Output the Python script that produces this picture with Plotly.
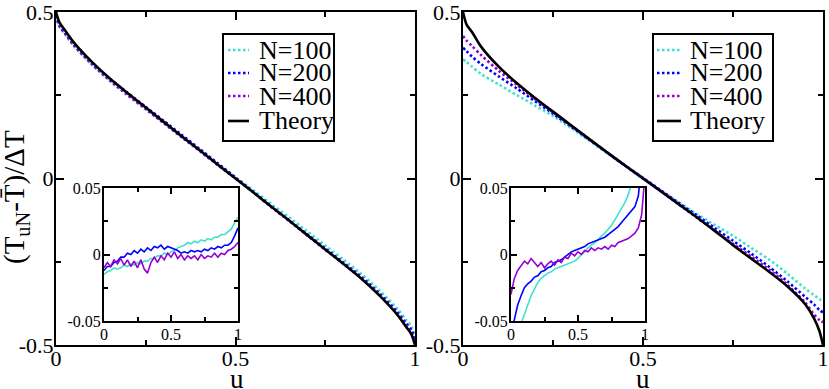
import plotly.graph_objects as go

# ---------------- data ----------------
U = [0, 0.01, 0.025, 0.05, 0.1, 0.15, 0.2, 0.25, 0.3, 0.35, 0.4, 0.45, 0.5,
     0.55, 0.6, 0.65, 0.7, 0.75, 0.8, 0.85, 0.9, 0.95, 0.975, 0.99, 1]

theory_left = [0.5, 0.468, 0.445, 0.408, 0.350, 0.300, 0.256, 0.213, 0.170, 0.127, 0.085, 0.042, 0.0,
               -0.042, -0.085, -0.127, -0.170, -0.213, -0.256, -0.300, -0.350, -0.408, -0.445, -0.468, -0.5]
left_n100 = [0.486, 0.455, 0.433, 0.397, 0.342, 0.294, 0.252, 0.210, 0.168, 0.126, 0.086, 0.045, 0.004,
             -0.036, -0.077, -0.117, -0.159, -0.201, -0.243, -0.286, -0.335, -0.390, -0.424, -0.444, -0.474]
left_n200 = [0.490, 0.458, 0.436, 0.401, 0.346, 0.299, 0.257, 0.215, 0.173, 0.131, 0.089, 0.046, 0.003,
             -0.040, -0.084, -0.126, -0.168, -0.210, -0.252, -0.295, -0.344, -0.400, -0.435, -0.455, -0.482]
left_n400 = [0.490, 0.458, 0.436, 0.400, 0.343, 0.294, 0.250, 0.208, 0.166, 0.124, 0.083, 0.041, 0.000,
             -0.042, -0.086, -0.128, -0.171, -0.214, -0.256, -0.299, -0.348, -0.405, -0.441, -0.463, -0.494]

theory_right = [0.5, 0.462, 0.440, 0.396, 0.335, 0.286, 0.242, 0.201, 0.160, 0.119, 0.079, 0.039, 0.0,
                -0.039, -0.078, -0.117, -0.158, -0.200, -0.240, -0.280, -0.323, -0.377, -0.420, -0.458, -0.5]
right_n100 = [0.358, 0.350, 0.336, 0.314, 0.282, 0.250, 0.219, 0.188, 0.152, 0.114, 0.076, 0.037, -0.001,
              -0.036, -0.072, -0.107, -0.140, -0.172, -0.208, -0.243, -0.285, -0.330, -0.350, -0.362, -0.368]
right_n200 = [0.393, 0.382, 0.366, 0.344, 0.306, 0.270, 0.232, 0.195, 0.156, 0.117, 0.078, 0.039, 0.002,
              -0.036, -0.074, -0.111, -0.149, -0.187, -0.225, -0.265, -0.308, -0.355, -0.378, -0.395, -0.402]
right_n400 = [0.428, 0.414, 0.398, 0.371, 0.323, 0.281, 0.239, 0.199, 0.159, 0.119, 0.079, 0.040, 0.001,
              -0.038, -0.078, -0.118, -0.157, -0.196, -0.234, -0.273, -0.318, -0.372, -0.408, -0.425, -0.432]

# inset: deviations, u step 0.025
UI = [i / 40 for i in range(41)]
inl_n100 = [-0.015, -0.013, -0.012, -0.010, -0.011, -0.010, -0.008, -0.009, -0.007, -0.008, -0.006,
            -0.007, -0.005, -0.005, -0.003, -0.003, -0.001, -0.001, 0.001, 0.000, 0.002, 0.003, 0.005,
            0.006, 0.007, 0.009, 0.008, 0.010, 0.009, 0.011, 0.010, 0.012, 0.011, 0.013, 0.013, 0.015,
            0.015, 0.017, 0.019, 0.024, 0.028]
inl_n200 = [-0.012, -0.009, -0.009, -0.006, -0.005, -0.002, -0.002, 0.001, 0.000, 0.003, 0.001,
            0.004, 0.002, 0.005, 0.003, 0.006, 0.005, 0.007, 0.004, 0.006, 0.005, 0.004, 0.003, 0.001,
            0.002, 0.001, 0.003, 0.002, 0.003, 0.002, 0.004, 0.003, 0.005, 0.004, 0.006, 0.005, 0.007,
            0.007, 0.009, 0.014, 0.020]
inl_n400 = [-0.010, -0.006, -0.009, -0.004, -0.007, -0.003, -0.008, -0.004, -0.009, -0.005, -0.010,
            -0.004, -0.011, -0.014, -0.006, -0.002, -0.006, -0.001, -0.004, 0.001, -0.002, 0.002, -0.003,
            0.000, -0.004, -0.001, -0.003, -0.001, -0.004, 0.000, -0.003, -0.001, -0.002, 0.001, -0.002,
            0.001, 0.000, 0.003, 0.004, 0.006, 0.009]

inr_n100 = [-0.090, -0.075, -0.062, -0.052, -0.045, -0.038, -0.031, -0.026, -0.021, -0.018, -0.016,
            -0.014, -0.013, -0.011, -0.010, -0.009, -0.008, -0.007, -0.006, -0.005, -0.003, 0.000, 0.002,
            0.005, 0.007, 0.009, 0.011, 0.014, 0.016, 0.019, 0.022, 0.026, 0.030, 0.034, 0.039, 0.045,
            0.052, 0.060, 0.070, 0.085, 0.110]
inr_n200 = [-0.060, -0.048, -0.038, -0.031, -0.025, -0.022, -0.020, -0.017, -0.016, -0.013, -0.012,
            -0.010, -0.009, -0.006, -0.005, -0.004, -0.002, 0.000, 0.002, 0.003, 0.004, 0.005, 0.006,
            0.008, 0.009, 0.010, 0.011, 0.012, 0.013, 0.015, 0.017, 0.019, 0.021, 0.024, 0.027, 0.030,
            0.033, 0.036, 0.044, 0.060, 0.090]
inr_n400 = [-0.030, -0.018, -0.012, -0.008, -0.005, -0.007, -0.003, -0.006, -0.009, -0.006, -0.010,
            -0.007, -0.005, -0.008, -0.004, -0.006, -0.002, -0.003, 0.001, -0.001, 0.002, 0.000, 0.003,
            0.002, 0.005, 0.003, 0.005, 0.004, 0.006, 0.004, 0.007, 0.006, 0.009, 0.010, 0.011, 0.012,
            0.014, 0.016, 0.020, 0.030, 0.060]

series_names = ["N=100", "N=200", "N=400", "Theory"]
colors = ["#40E0D0", "#0000FF", "#9400D3", "#000000"]

# ---------------- figure ----------------
W, H = 829, 389
FONT = "Liberation Serif"


def px(x):
    return x / W


def py(y):
    return (H - y) / H


fig = go.Figure()

DOT = "2.5px,2.5px"
panels = [
    ("x", "y", theory_left, [left_n100, left_n200, left_n400]),
    ("x2", "y2", theory_right, [right_n100, right_n200, right_n400]),
]
for xa, ya, th, sims in panels:
    for vals, c, nm in zip(sims, colors[:3], series_names[:3]):
        fig.add_trace(go.Scatter(x=U, y=vals, mode="lines", xaxis=xa, yaxis=ya, name=nm,
                                 line=dict(color=c, width=2.6, dash=DOT, shape="spline", smoothing=0.8),
                                 showlegend=False))
    fig.add_trace(go.Scatter(x=U, y=th, mode="lines", xaxis=xa, yaxis=ya, name="Theory",
                             line=dict(color="black", width=2.6, shape="spline", smoothing=0.8),
                             showlegend=False))

insets = [("x3", "y3", [inl_n100, inl_n200, inl_n400]),
          ("x4", "y4", [inr_n100, inr_n200, inr_n400])]
for xa, ya, sims in insets:
    for vals, c, nm in zip(sims, colors[:3], series_names[:3]):
        fig.add_trace(go.Scatter(x=UI, y=vals, mode="lines", xaxis=xa, yaxis=ya, name=nm,
                                 line=dict(color=c, width=1.6), showlegend=False))

main_tick = dict(family=FONT, size=22, color="black")
inset_tick = dict(family=FONT, size=16, color="black")


def xaxis(dom, anchor, font, ticklen, minorlen, standoff):
    return dict(domain=dom, anchor=anchor, range=[0, 1], tickvals=[0, 0.5, 1], ticktext=["0", "0.5", "1"],
                ticks="inside", ticklen=ticklen, tickwidth=2, tickcolor="black", showline=True,
                linewidth=2, linecolor="black", mirror="ticks", showgrid=False, zeroline=False,
                tickfont=font, ticklabeloverflow="allow", ticklabelstandoff=standoff,
                minor=dict(tickvals=[0.25, 0.75], ticks="inside", ticklen=minorlen,
                           tickwidth=2, tickcolor="black", showgrid=False))


def yaxis(dom, anchor, rng, vals, txt, mvals, font, ticklen, minorlen, standoff):
    return dict(domain=dom, anchor=anchor, range=rng, tickvals=vals, ticktext=txt,
                ticks="inside", ticklen=ticklen, tickwidth=2, tickcolor="black", showline=True,
                linewidth=2, linecolor="black", mirror="ticks", showgrid=False, zeroline=False,
                tickfont=font, ticklabeloverflow="allow", ticklabelstandoff=standoff,
                minor=dict(tickvals=mvals, ticks="inside", ticklen=minorlen,
                           tickwidth=2, tickcolor="black", showgrid=False))


ydom_main = [py(345), py(12)]
ydom_inset = [py(321), py(188)]
main_y = ([-0.5, 0.5], [-0.5, 0, 0.5], ["-0.5", "0", "0.5"], [-0.25, 0.25])
inset_y = ([-0.05, 0.05], [-0.05, 0, 0.05], ["-0.05", "0", "0.05"], [-0.025, 0.025])

fig.update_layout(
    width=W, height=H, margin=dict(l=0, r=0, t=0, b=0, autoexpand=False),
    paper_bgcolor="white", plot_bgcolor="white", showlegend=False,
    xaxis=xaxis([px(56), px(415)], "y", main_tick, 8, 5, -7),
    yaxis=yaxis(ydom_main, "x", *main_y, main_tick, 8, 5, -4),
    xaxis2=xaxis([px(463), px(823)], "y2", main_tick, 8, 5, -7),
    yaxis2=yaxis(ydom_main, "x2", *main_y, main_tick, 8, 5, -4),
    xaxis3=xaxis([px(104), px(238)], "y3", inset_tick, 6, 4, -2),
    yaxis3=yaxis(ydom_inset, "x3", *inset_y, inset_tick, 6, 4, -2),
    xaxis4=xaxis([px(511), px(645)], "y4", inset_tick, 6, 4, -2),
    yaxis4=yaxis(ydom_inset, "x4", *inset_y, inset_tick, 6, 4, -2),
)

TITLE_FONT = dict(family=FONT, size=27, color="black")
# axis titles
ann = [
    dict(xref="paper", yref="paper", x=px(237), y=py(379), text="u", showarrow=False,
         xanchor="center", yanchor="middle", font=TITLE_FONT),
    dict(xref="paper", yref="paper", x=px(643), y=py(379), text="u", showarrow=False,
         xanchor="center", yanchor="middle", font=TITLE_FONT),
    dict(xref="paper", yref="paper", x=px(16), y=py(197), text="(T<sub>uN</sub>-T\u0304)/\u0394T",
         showarrow=False, textangle=-90, xanchor="center", yanchor="middle",
         font=dict(family=FONT, size=29, color="black")),
]

# legend boxes (drawn manually)
shapes = []
legends = [dict(box=(223, 34, 334, 141), s0=228, s1=249, tx=257),
           dict(box=(653, 34, 773, 141), s0=657, s1=681, tx=688)]
rows = [50, 73, 96, 121]
for lg in legends:
    x0, y0, x1, y1 = lg["box"]
    shapes.append(dict(type="rect", xref="paper", yref="paper", x0=px(x0), x1=px(x1), y0=py(y1), y1=py(y0),
                       line=dict(color="black", width=2), fillcolor="white", layer="above"))
    for r, c, nm in zip(rows, colors, series_names):
        shapes.append(dict(type="line", xref="paper", yref="paper", x0=px(lg["s0"]), x1=px(lg["s1"]),
                           y0=py(r), y1=py(r), layer="above",
                           line=dict(color=c, width=2.6, dash=("solid" if nm == "Theory" else DOT))))
        ann.append(dict(xref="paper", yref="paper", x=px(lg["tx"]), y=py(r), text=nm, showarrow=False,
                        xanchor="left", yanchor="middle", font=dict(family=FONT, size=26, color="black")))

fig.update_layout(annotations=ann, shapes=shapes)
fig.write_html("out.html", config={"displayModeBar": False},
               post_script="document.body.style.margin='0';document.body.style.padding='0';"
                           "document.documentElement.style.overflow='hidden';")
